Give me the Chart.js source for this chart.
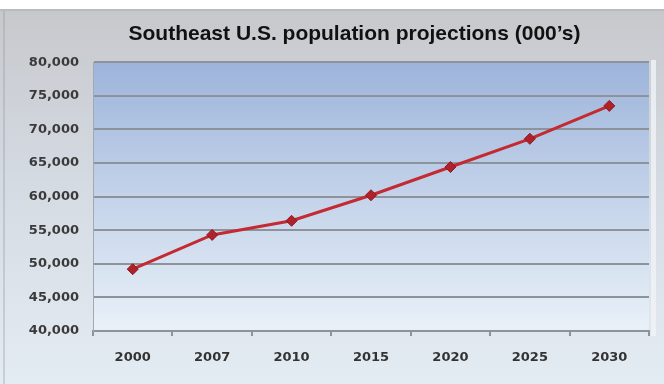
<!DOCTYPE html>
<html>
<head>
<meta charset="utf-8">
<title>Southeast U.S. population projections</title>
<script src="https://cdn.jsdelivr.net/npm/chart.js@4.4.0/dist/chart.umd.min.js"></script>
<style>
  html, body { margin: 0; padding: 0; background: #fff; }
  #wrap { width: 664px; height: 384px; }
</style>
</head>
<body>
<div id="wrap"><canvas id="popChart" width="664" height="384"></canvas></div>
<script>
// data (thousands)
const years = ['2000', '2007', '2010', '2015', '2020', '2025', '2030'];
const population = [49200, 54300, 56400, 60200, 64400, 68600, 73500];
const yMin = 40000;
const yMax = 80000;
const yStep = 5000;

// paints the grey frame and the blue plot gradient behind everything
const backdrop = {
  id: 'backdrop',
  afterLayout(chart) {
    // the title in the original sits a bit right of the canvas centre
    const t = chart.titleBlock;
    if (t) { t.left = 60; t.right = chart.chartArea.right; }
  },
  beforeDraw(chart) {
    const { ctx, width, height, chartArea } = chart;
    ctx.save();
    ctx.fillStyle = '#ffffff';
    ctx.fillRect(0, 0, width, height);

    let g = ctx.createLinearGradient(0, 9, 0, height);
    g.addColorStop(0, '#c7c8cc');
    g.addColorStop(0.45, '#d4dae2');
    g.addColorStop(1, '#e4ecf3');
    ctx.fillStyle = g;
    ctx.fillRect(0, 9, width, height - 9);

    // thin frame edges
    ctx.fillStyle = '#b9bbbf';
    ctx.fillRect(0, 9, width, 2);
    ctx.fillStyle = 'rgba(150,155,162,0.35)';
    ctx.fillRect(3, 11, 2, height - 11);
    ctx.fillStyle = 'rgba(240,244,248,0.8)';
    ctx.fillRect(chartArea.right + 2, 60, 5, chartArea.bottom - 55);

    g = ctx.createLinearGradient(0, chartArea.top, 0, chartArea.bottom);
    g.addColorStop(0, '#9db4da');
    g.addColorStop(0.5, '#c4d3ea');
    g.addColorStop(1, '#e9f1f8');
    ctx.fillStyle = g;
    ctx.fillRect(chartArea.left, chartArea.top, chartArea.right - chartArea.left, chartArea.bottom - chartArea.top);
    ctx.restore();
  }
};

new Chart(document.getElementById('popChart'), {
  type: 'line',
  data: {
    labels: years,
    datasets: [{
      label: 'Population',
      data: population,
      borderColor: '#c42a31',
      borderWidth: 3,
      pointStyle: 'rectRot',
      pointRadius: 5.5,
      pointBackgroundColor: '#b0222a',
      pointBorderColor: '#8c1a1f',
      pointBorderWidth: 1,
      tension: 0
    }]
  },
  options: {
    responsive: false,
    animation: false,
    devicePixelRatio: 1,
    layout: { padding: { left: 0, right: 15, top: 0, bottom: 0 } },
    plugins: {
      legend: { display: false },
      tooltip: { enabled: false },
      title: {
        display: true,
        text: "Southeast U.S. population projections (000\u2019s)",
        color: '#111111',
        font: { family: '"Liberation Sans", Arial, sans-serif', size: 21, weight: 'bold' },
        padding: { top: 22, bottom: 15 }
      }
    },
    scales: {
      x: {
        offset: true,
        grid: {
          offset: true,
          drawOnChartArea: false,
          drawTicks: true,
          tickLength: 5,
          color: '#8d939a',
          lineWidth: 2
        },
        border: { display: true, color: '#8d939a', width: 2 },
        ticks: {
          color: '#333333',
          padding: 14,
          font: { family: '"DejaVu Sans", sans-serif', size: 13, weight: 'bold' }
        },
        afterFit(scale) { scale.height = 53; }
      },
      y: {
        min: yMin,
        max: yMax,
        ticks: {
          stepSize: yStep,
          color: '#3a3a3a',
          padding: 14,
          font: { family: '"DejaVu Sans", sans-serif', size: 13, weight: 'bold' },
          callback: v => v.toLocaleString('en-US')
        },
        grid: { color: '#8d939a', lineWidth: 2, drawTicks: false },
        border: { display: true, color: '#a3a9b0', width: 1 },
        afterFit(scale) { scale.width = 93; }
      }
    }
  },
  plugins: [backdrop]
});
</script>
</body>
</html>
